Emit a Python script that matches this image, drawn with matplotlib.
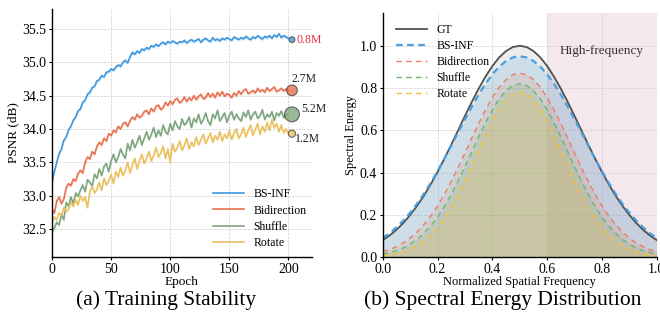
import matplotlib
matplotlib.use("Agg")
import matplotlib.pyplot as plt
import numpy as np

plt.rcParams['font.family'] = 'serif'
plt.rcParams['font.serif'] = ['Liberation Serif', 'DejaVu Serif']

# ---------------- Data: (a) Training Stability ----------------
epochs = list(range(0, 201, 2))
bs_inf = [33.20, 33.36, 33.50, 33.63, 33.70, 33.83, 33.88, 33.99, 34.04, 34.13,
          34.18, 34.27, 34.30, 34.40, 34.43, 34.52, 34.55, 34.62, 34.64, 34.72,
          34.74, 34.80, 34.78, 34.85, 34.86, 34.90, 34.88, 34.93, 34.96, 34.94,
          35.00, 35.03, 34.99, 35.08, 35.15, 35.12, 35.17, 35.14, 35.20, 35.18,
          35.22, 35.20, 35.25, 35.23, 35.27, 35.24, 35.28, 35.30, 35.27, 35.31,
          35.29, 35.32, 35.30, 35.28, 35.31, 35.30, 35.33, 35.29, 35.32, 35.34,
          35.31, 35.33, 35.35, 35.30, 35.34, 35.36, 35.33, 35.31, 35.37, 35.33,
          35.35, 35.32, 35.36, 35.34, 35.37, 35.35, 35.33, 35.38, 35.36, 35.34,
          35.37, 35.35, 35.39, 35.36, 35.34, 35.38, 35.36, 35.40, 35.37, 35.35,
          35.39, 35.37, 35.40, 35.36, 35.41, 35.38, 35.43, 35.37, 35.40, 35.38, 35.36]
bidirection = [32.80, 32.74, 32.92, 32.98, 32.88, 32.95, 33.12, 33.18, 33.15, 33.25,
               33.22, 33.33, 33.38, 33.34, 33.50, 33.58, 33.55, 33.66, 33.62, 33.74,
               33.80, 33.76, 33.86, 33.82, 33.93, 33.90, 33.98, 33.95, 34.04, 34.00,
               34.08, 34.10, 34.04, 34.12, 34.18, 34.14, 34.22, 34.17, 34.20, 34.26,
               34.28, 34.22, 34.31, 34.26, 34.34, 34.36, 34.29, 34.32, 34.40, 34.35,
               34.42, 34.37, 34.44, 34.46, 34.39, 34.42, 34.48, 34.41, 34.47, 34.43,
               34.50, 34.44, 34.49, 34.52, 34.45, 34.47, 34.54, 34.48, 34.53, 34.47,
               34.55, 34.50, 34.56, 34.49, 34.53, 34.51, 34.47, 34.54, 34.50, 34.57,
               34.52, 34.58, 34.60, 34.53, 34.55, 34.58, 34.54, 34.61, 34.56, 34.59,
               34.55, 34.62, 34.57, 34.60, 34.63, 34.56, 34.58, 34.61, 34.57, 34.60, 34.58]
shuffle = [32.45, 32.52, 32.60, 32.56, 32.72, 32.64, 32.90, 32.84, 32.98, 32.88,
           33.04, 32.99, 33.08, 33.16, 33.06, 33.24, 33.20, 33.14, 33.32, 33.26,
           33.40, 33.30, 33.44, 33.48, 33.36, 33.52, 33.62, 33.50, 33.58, 33.70,
           33.62, 33.56, 33.78, 33.68, 33.84, 33.72, 33.80, 33.90, 33.76, 33.86,
           33.96, 33.84, 33.92, 34.02, 33.88, 33.98, 33.90, 34.06, 33.96, 33.92,
           34.08, 33.98, 34.12, 34.04, 34.00, 34.15, 34.06, 34.10, 34.18, 34.02,
           34.16, 34.10, 34.22, 34.08, 34.14, 34.24, 34.12, 34.06, 34.22, 34.16,
           34.28, 34.12, 34.18, 34.24, 34.10, 34.20, 34.26, 34.14, 34.22, 34.16,
           34.12, 34.25, 34.18, 34.28, 34.14, 34.22, 34.26, 34.16, 34.20, 34.29,
           34.14, 34.22, 34.18, 34.26, 34.13, 34.24, 34.20, 34.27, 34.17, 34.21, 34.22]
rotate = [32.60, 32.68, 32.64, 32.74, 32.70, 32.82, 32.76, 32.80, 32.90, 32.84,
          32.94, 32.86, 33.00, 32.92, 32.98, 32.82, 33.06, 33.14, 33.04, 33.10,
          33.20, 33.08, 33.26, 33.16, 33.22, 33.32, 33.18, 33.36, 33.28, 33.42,
          33.30, 33.38, 33.50, 33.34, 33.46, 33.56, 33.40, 33.52, 33.62, 33.48,
          33.56, 33.66, 33.52, 33.60, 33.72, 33.58, 33.64, 33.74, 33.56, 33.70,
          33.50, 33.78, 33.66, 33.72, 33.82, 33.68, 33.76, 33.86, 33.70, 33.80,
          33.74, 33.88, 33.76, 33.84, 33.92, 33.78, 33.86, 33.94, 33.80, 33.90,
          33.84, 33.96, 33.82, 33.92, 33.86, 33.98, 33.84, 33.94, 34.00, 33.86,
          33.92, 34.02, 33.88, 33.98, 34.06, 33.90, 34.00, 34.08, 33.92, 34.04,
          33.96, 34.10, 33.98, 34.14, 34.02, 34.08, 33.96, 34.06, 33.94, 34.00, 33.93]
method_names = ["BS-INF", "Bidirection", "Shuffle", "Rotate"]
final_psnr = [35.34, 34.58, 34.22, 33.93]
params_m = [0.8, 2.7, 5.2, 1.2]
param_labels = ["0.8M", "2.7M", "5.2M", "1.2M"]

# ---------------- Data: (b) Spectral Energy Distribution ----------------
freq = [i / 40 for i in range(41)]
gt = [0.080, 0.102, 0.129, 0.161, 0.199, 0.242, 0.290, 0.344, 0.403, 0.466, 0.532,
      0.600, 0.668, 0.734, 0.797, 0.854, 0.904, 0.945, 0.975, 0.994, 1.000,
      0.994, 0.975, 0.945, 0.904, 0.854, 0.797, 0.734, 0.668, 0.600, 0.532,
      0.466, 0.403, 0.344, 0.290, 0.242, 0.199, 0.161, 0.129, 0.102, 0.080]
spec_bs = [0.090, 0.113, 0.141, 0.173, 0.210, 0.252, 0.299, 0.351, 0.407, 0.466, 0.527,
           0.590, 0.652, 0.712, 0.769, 0.820, 0.865, 0.901, 0.928, 0.945, 0.950,
           0.945, 0.928, 0.901, 0.865, 0.820, 0.769, 0.712, 0.652, 0.590, 0.527,
           0.466, 0.407, 0.351, 0.299, 0.252, 0.210, 0.173, 0.141, 0.113, 0.090]
spec_bi = [0.025, 0.035, 0.049, 0.067, 0.090, 0.118, 0.153, 0.194, 0.242, 0.297, 0.358,
           0.424, 0.493, 0.563, 0.632, 0.697, 0.755, 0.804, 0.840, 0.863, 0.870,
           0.863, 0.840, 0.804, 0.755, 0.697, 0.632, 0.563, 0.493, 0.424, 0.358,
           0.297, 0.242, 0.194, 0.153, 0.118, 0.090, 0.067, 0.049, 0.035, 0.025]
spec_sh = [0.014, 0.021, 0.030, 0.043, 0.061, 0.083, 0.112, 0.147, 0.189, 0.239, 0.296,
           0.360, 0.428, 0.498, 0.569, 0.636, 0.697, 0.749, 0.787, 0.812, 0.820,
           0.812, 0.787, 0.749, 0.697, 0.636, 0.569, 0.498, 0.428, 0.360, 0.296,
           0.239, 0.189, 0.147, 0.112, 0.083, 0.061, 0.043, 0.030, 0.021, 0.014]
spec_ro = [0.006, 0.010, 0.016, 0.024, 0.036, 0.052, 0.074, 0.102, 0.138, 0.182, 0.234,
           0.295, 0.361, 0.433, 0.506, 0.578, 0.644, 0.700, 0.743, 0.771, 0.780,
           0.771, 0.743, 0.700, 0.644, 0.578, 0.506, 0.433, 0.361, 0.295, 0.234,
           0.182, 0.138, 0.102, 0.074, 0.052, 0.036, 0.024, 0.016, 0.010, 0.006]

# ---------------- Styles ----------------
left_colors = ['#3d97dd', '#e6714f', '#7ea67e', '#ebc05e']
right_colors = ['#4a9fe0', '#ea7f62', '#66bb6a', '#f6c133']
gt_color = '#505050'

fig = plt.figure(figsize=(6.6, 3.23), dpi=100)

# ---- Left panel ----
ax1 = fig.add_axes([0.0788, 0.2043, 0.394, 0.7678])
series = [bs_inf, bidirection, shuffle, rotate]
ep = np.array(epochs)
for name, vals, c in zip(method_names, series, left_colors):
    v = np.array(vals)
    ax1.fill_between(ep, v - 0.03, v + 0.03, color=c, alpha=0.15, lw=0)
    ax1.plot(ep, v, color=c, lw=1.2, label=name)
mx = [203] * 4
ax1.scatter(mx, final_psnr, s=[p * 22 for p in params_m], c=left_colors,
            edgecolors='#444444', linewidths=0.8, alpha=0.8, zorder=5)
ax1.annotate(param_labels[0], (203, final_psnr[0]), xytext=(3.5, 0), textcoords='offset points',
             va='center', ha='left', fontsize=8.5, color='#e0323a')
ax1.annotate(param_labels[1], (203, final_psnr[1]), xytext=(0, 4), textcoords='offset points',
             va='bottom', ha='left', fontsize=8.5, color='#222222')
ax1.annotate(param_labels[2], (203, final_psnr[2]), xytext=(7, 4), textcoords='offset points',
             va='center', ha='left', fontsize=8.5, color='#222222')
ax1.annotate(param_labels[3], (203, final_psnr[3]), xytext=(2, -3.5), textcoords='offset points',
             va='center', ha='left', fontsize=8.5, color='#222222')
ax1.set_xlim(0, 220)
ax1.set_ylim(32.08, 35.8)
ax1.set_xticks([0, 50, 100, 150, 200])
ax1.set_yticks([32.5, 33.0, 33.5, 34.0, 34.5, 35.0, 35.5])
ax1.grid(True, ls='--', lw=0.5, color='#cccccc')
ax1.set_axisbelow(True)
for s in ['top', 'right']:
    ax1.spines[s].set_visible(False)
for s in ['left', 'bottom']:
    ax1.spines[s].set_linewidth(1.0)
ax1.tick_params(labelsize=10, length=2.5, width=0.8, pad=1.5)
ax1.set_xlabel('Epoch', fontsize=9.5, labelpad=0)
ax1.set_ylabel('PSNR (dB)', fontsize=9.5, labelpad=2)
ax1.legend(loc='lower right', bbox_to_anchor=(1.02, -0.01), frameon=False, fontsize=8.5,
           handlelength=2.6, handletextpad=0.8, labelspacing=0.35)

# ---- Right panel ----
ax2 = fig.add_axes([0.580, 0.2043, 0.415, 0.7554])
ax2.axvspan(0.6, 1.0, color='#f4e8ec', lw=0, zorder=0)
ax2.text(0.8, 0.975, 'High-frequency', ha='center', va='center', fontsize=9.5, color='#333333')
ax2.fill_between(freq, 0, gt, color='#9a9a9a', alpha=0.18, lw=0)
ax2.plot(freq, gt, color=gt_color, lw=1.3, label='GT')
spec = [spec_bs, spec_bi, spec_sh, spec_ro]
for i, (name, vals, c) in enumerate(zip(method_names, spec, right_colors)):
    ax2.fill_between(freq, 0, vals, color=c, alpha=0.18, lw=0)
    ax2.plot(freq, vals, color=c, lw=1.6 if i == 0 else 1.0,
             ls=(0, (3, 2)) if i == 0 else (0, (4, 3)), label=name)
ax2.set_xlim(0, 1.0)
ax2.set_ylim(0, 1.155)
ax2.set_xticks([0.0, 0.2, 0.4, 0.6, 0.8, 1.0])
ax2.set_yticks([0.0, 0.2, 0.4, 0.6, 0.8, 1.0])
ax2.grid(True, ls='--', lw=0.5, color='#cccccc')
ax2.set_axisbelow(True)
for s in ['top', 'right']:
    ax2.spines[s].set_visible(False)
for s in ['left', 'bottom']:
    ax2.spines[s].set_linewidth(1.0)
ax2.tick_params(labelsize=10, length=2.5, width=0.8, pad=1.5)
ax2.set_xlabel('Normalized Spatial Frequency', fontsize=9, labelpad=0)
ax2.set_ylabel('Spectral Energy', fontsize=9, labelpad=2)
ax2.legend(loc='upper left', bbox_to_anchor=(0.01, 1.0), frameon=False, fontsize=8.5,
           handlelength=2.6, handletextpad=0.8, labelspacing=0.35)

fig.text(0.251, 0.07, '(a) Training Stability', ha='center', va='center', fontsize=15.5)
fig.text(0.761, 0.07, '(b) Spectral Energy Distribution', ha='center', va='center', fontsize=15.5)

fig.savefig('out.png', dpi=100)
